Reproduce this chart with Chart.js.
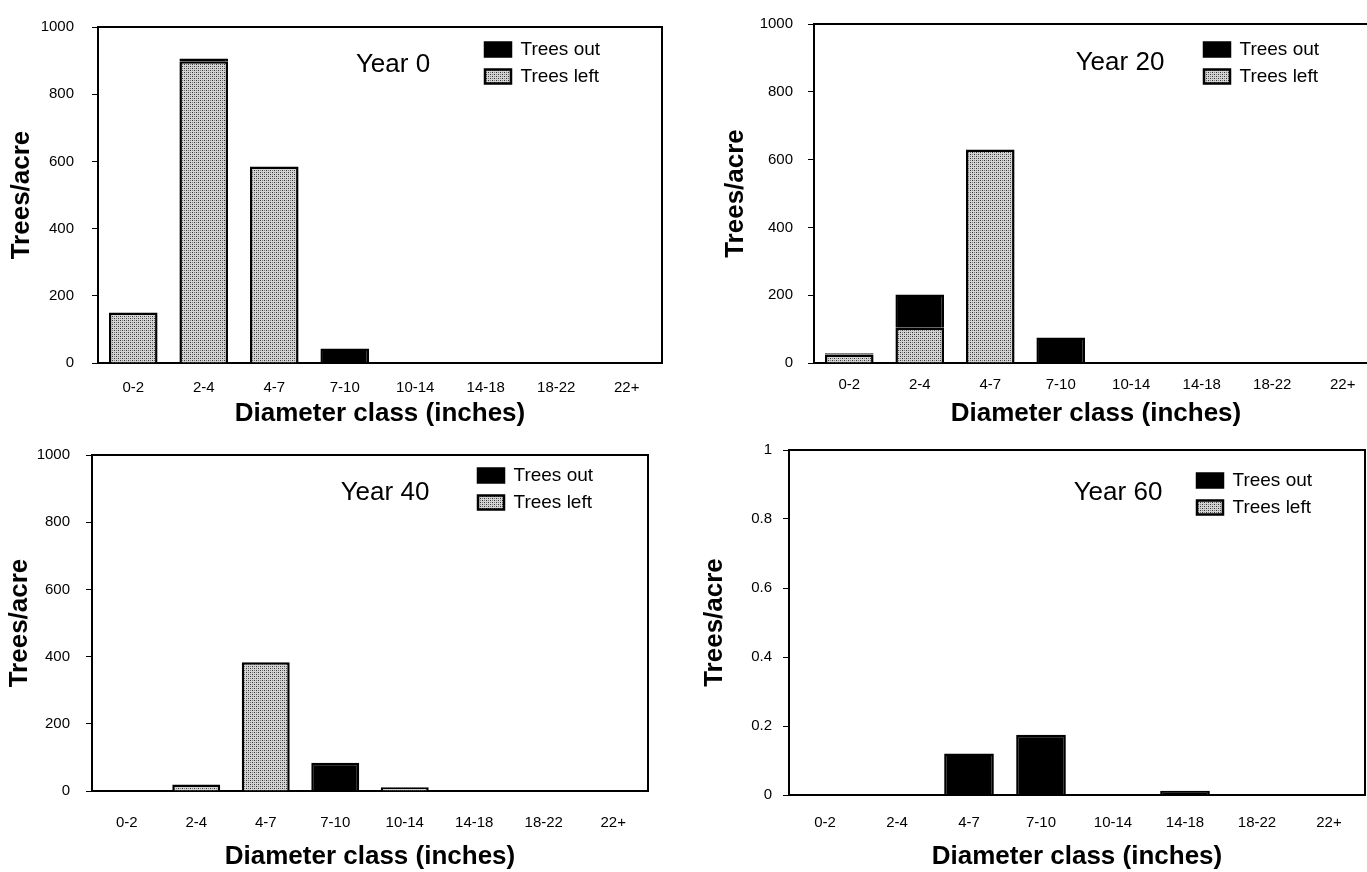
<!DOCTYPE html>
<html>
<head>
<meta charset="utf-8">
<script src="https://cdn.jsdelivr.net/npm/chart.js@4.4.0/dist/chart.umd.min.js"></script>
<style>
	html, body { margin: 0; padding: 0; background: #fff; overflow: hidden; width: 1367px; height: 872px; }
	canvas { position: absolute; }
</style>
</head>
<body>
<canvas id="year0" width="683" height="436" style="left:0;top:0"></canvas>
<canvas id="year20" width="700" height="436" style="left:684px;top:0"></canvas>
<canvas id="year40" width="683" height="442" style="left:0;top:430px"></canvas>
<canvas id="year60" width="683" height="442" style="left:684px;top:430px"></canvas>
<script>
// diameter classes on the x axis
const diameterClasses = ["0-2", "2-4", "4-7", "7-10", "10-14", "14-18", "18-22", "22+"];

// trees/acre
const year0Left = [150, 898, 585, 0, 0, 0, 0, 0];
const year0Out = [0, 8, 0, 43, 0, 0, 0, 0];
const year20Left = [25, 104, 630, 0, 0, 0, 0, 0];
const year20Out = [4, 98, 0, 75, 0, 0, 0, 0];
const year40Left = [0, 19, 383, 0, 11, 0, 0, 0];
const year40Out = [0, 0, 0, 84, 0, 0, 0, 0];
const year60Left = [0, 0, 0, 0, 0, 0, 0, 0];
const year60Out = [0, 0, 0.12, 0.175, 0, 0.012, 0, 0];

// y tick labels
const countTicks = ["0", "200", "400", "600", "800", "1000"];
const fractionTicks = ["0", "0.2", "0.4", "0.6", "0.8", "1"];

const FONT = "'Liberation Sans', Arial, sans-serif";

// dotted grey used for "Trees left"
function stipple() {
	const c = document.createElement("canvas");
	c.width = 4;
	c.height = 4;
	const g = c.getContext("2d");
	g.fillStyle = "#d4d4d4";
	g.fillRect(0, 0, 4, 4);
	g.fillStyle = "#333";
	g.fillRect(0, 0, 1, 1);
	g.fillRect(2, 2, 1, 1);
	g.fillStyle = "#7a7a7a";
	g.fillRect(2, 0, 1, 1);
	g.fillRect(0, 2, 1, 1);
	return g.createPattern(c, "repeat");
}
const leftFill = stipple();

const panelDecor = {
	id: "panelDecor",
	afterLayout(chart, args, opts) {
		const lg = chart.legend;
		if (!lg || !opts.legendAt) return;
		const w = lg.width;
		lg.left = opts.legendAt[0];
		lg.top = opts.legendAt[1];
		lg.right = lg.left + w;
		lg.bottom = chart.height;
	},
	beforeDatasetsDraw(chart) {
		const { ctx, chartArea: a } = chart;
		ctx.save();
		ctx.strokeStyle = "#000";
		ctx.lineWidth = 2;
		ctx.strokeRect(a.left, a.top, a.right - a.left, a.bottom - a.top);
		ctx.restore();
	},
	afterDraw(chart, args, opts) {
		if (!opts.year) return;
		const ctx = chart.ctx;
		ctx.save();
		ctx.fillStyle = "#000";
		ctx.font = "26px " + FONT;
		ctx.textAlign = "center";
		ctx.textBaseline = "middle";
		ctx.fillText(opts.year, opts.yearAt[0], opts.yearAt[1]);
		ctx.restore();
	},
};

function makePanel(id, left, out, p) {
	return new Chart(document.getElementById(id), {
		type: "bar",
		data: {
			labels: diameterClasses,
			datasets: [
				{ label: "Trees left", data: left, backgroundColor: leftFill, borderColor: "#000", borderWidth: 2.5 },
				{ label: "Trees out", data: out, backgroundColor: "#000", borderColor: "#000", borderWidth: 2.5 },
			],
		},
		options: {
			responsive: false,
			animation: false,
			layout: { padding: { left: 0, bottom: 0, top: p.padTop, right: p.padRight } },
			datasets: { bar: { categoryPercentage: 1, barPercentage: 0.69 } },
			scales: {
				x: {
					stacked: true,
					offset: true,
					grid: { display: false, drawTicks: false },
					border: { display: false },
					ticks: { color: "#000", font: { family: FONT, size: 15 }, padding: p.xPad, maxRotation: 0, autoSkip: false },
					title: { display: true, text: "Diameter class (inches)", color: "#000", font: { family: FONT, size: 26, weight: "bold" }, padding: { top: 0, bottom: p.xTitlePad } },
					afterFit: (s) => { s.height = p.xHeight; },
				},
				y: {
					stacked: true,
					min: 0,
					max: p.max,
					grid: { drawOnChartArea: false, drawTicks: true, tickLength: 6, color: "#000" },
					border: { display: false },
					ticks: {
						stepSize: p.max / 5,
						color: "#000",
						font: { family: FONT, size: 15 },
						padding: p.yPad,
						callback: (v, i) => p.tickLabels[i],
					},
					title: { display: true, text: "Trees/acre", color: "#000", font: { family: FONT, size: 26, weight: "bold" }, padding: { top: p.yTitlePad, bottom: 0 } },
					afterFit: (s) => { s.width = p.yWidth; },
				},
			},
			plugins: {
				tooltip: { enabled: false },
				legend: {
					position: "chartArea",
					align: "start",
					reverse: true,
					labels: { color: "#000", font: { family: FONT, size: 19 }, boxWidth: 26, boxHeight: 14, padding: 8 },
				},
				panelDecor: { legendAt: p.legendAt, year: p.year, yearAt: p.yearAt },
			},
		},
		plugins: [panelDecor],
	});
}

makePanel("year0", year0Left, year0Out, {
	max: 1000, tickLabels: countTicks, padTop: 17, padRight: 21, yWidth: 98, xHeight: 73,
	xPad: 16, xTitlePad: 7, yPad: 18, yTitlePad: 6,
	legendAt: [477, 32], year: "Year 0", yearAt: [393, 65],
});
makePanel("year20", year20Left, year20Out, {
	max: 1000, tickLabels: countTicks, padTop: 17, padRight: 6, yWidth: 130, xHeight: 73,
	xPad: 13, xTitlePad: 7, yPad: 15, yTitlePad: 36,
	legendAt: [512, 32], year: "Year 20", yearAt: [436, 63],
});
makePanel("year40", year40Left, year40Out, {
	max: 1000, tickLabels: countTicks, padTop: 12, padRight: 35, yWidth: 92, xHeight: 81,
	xPad: 23, xTitlePad: 0, yPad: 16, yTitlePad: 4,
	legendAt: [470, 28], year: "Year 40", yearAt: [385, 63],
});
makePanel("year60", year60Left, year60Out, {
	max: 1, tickLabels: fractionTicks, padTop: 16, padRight: 2, yWidth: 105, xHeight: 77,
	xPad: 19, xTitlePad: 0, yPad: 11, yTitlePad: 15,
	legendAt: [505, 33], year: "Year 60", yearAt: [434, 63],
});
</script>
</body>
</html>
